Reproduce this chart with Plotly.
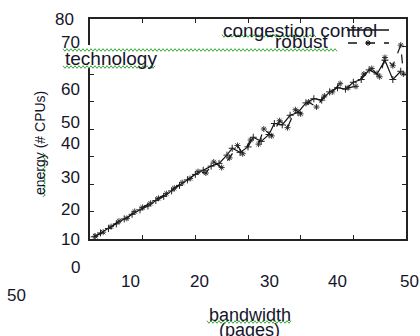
import plotly.graph_objects as go

# ---- data (axis units: x 0..60, y 0..80) ----
cc_x = [0.8, 2, 3.5, 5, 6.5, 8, 9.5, 11, 12.5, 14, 15.5, 17, 18.5, 20, 21.5, 23, 24.5, 26, 27, 28.5,
        30, 31, 32.5, 34, 35, 36.5, 38, 39.5, 41, 42.5, 44, 45.5, 47, 48.5, 50, 51.5, 53, 54.5, 56, 57.5, 59]
cc_y = [0.8, 2.2, 3.8, 5.5, 7.3, 9, 10.6, 12, 14, 15.5, 17.5, 19.5, 21.5, 23.5, 25, 26.5, 27.5, 30.5, 33, 31.5,
        33.5, 37, 35.5, 38, 42, 41.5, 45, 46, 49.5, 51, 50.5, 53.5, 55, 54.5, 57, 58, 61.5, 60, 65, 58, 61]
rb_x = [1, 2.5, 4, 5.5, 7, 8.5, 10, 11.5, 13, 14.5, 16, 17.5, 19, 20.5, 22, 23.5, 25, 26.5, 28, 29,
        30.5, 32, 33, 34.5, 36, 37.5, 39, 40, 41.5, 43, 44.5, 46, 47.5, 49, 50.5, 52, 53.5, 55, 56, 57.5, 59, 59.5]
rb_y = [1, 2.5, 4.5, 6.5, 7.5, 10, 11.5, 13, 14.8, 16.5, 18.5, 20.5, 22, 24.5, 24, 28, 26, 29.5, 34, 31,
        36, 34.5, 40, 37.5, 43, 40.5, 47, 45.5, 49.8, 48, 52, 53.5, 56.5, 55, 55.5, 60, 62, 59, 66, 63, 70.5, 60]

series_names = ["congestion control", "robust"]

# tick labels (as they appear, misplaced, in the reference), positions in axis units
ytick_text = ["80", "70", "60", "50", "40", "30", "20", "10", "0"]
ytick_pos = [80, 71.3, 54.2, 42.2, 34.9, 22.2, 10.9, 0, -10.2]
xtick_text = ["10", "20", "30", "40", "50", "50"]
xtick_pos = [7.6, 20.7, 34.0, 46.9, 60.6, -14.0]
xtick_ypos = [-15.6, -15.6, -15.6, -15.6, -15.6, -20.4]

XR = [0, 60]
YR = [0, 80]

W, H = 420, 336
L, R, T, B = 90, 14, 19, 97
PW, PH = W - L - R, H - T - B


def px(x):
    return (x - L) / PW


def py(y):
    return (H - B - y) / PH


def ux(v):  # axis units -> paper
    return (v - XR[0]) / (XR[1] - XR[0])


def uy(v):
    return (v - YR[0]) / (YR[1] - YR[0])


FONT = "Liberation Sans, Arial, sans-serif"
TXT = "#15152a"

fig = go.Figure()
fig.add_trace(go.Scatter(
    x=cc_x, y=cc_y, mode="lines+markers", name=series_names[0],
    line=dict(color="#111", width=1.2),
    marker=dict(symbol="cross-thin", size=5, line=dict(width=1, color="#222"), color="#222"),
    showlegend=False))
fig.add_trace(go.Scatter(
    x=rb_x, y=rb_y, mode="lines+markers", name=series_names[1],
    line=dict(color="#111", width=1.2, dash="dash"),
    marker=dict(symbol="asterisk", size=5, line=dict(width=0.9, color="#222"), color="#222"),
    showlegend=False))

ann = []
for t, v in zip(ytick_text, ytick_pos):
    xr = 82 if t != "80" else 76
    ann.append(dict(x=px(xr), xref="paper", y=uy(v), yref="paper", text=t, showarrow=False,
                    xanchor="right", yanchor="middle", font=dict(family=FONT, size=17, color=TXT)))
for t, v, yv in zip(xtick_text, xtick_pos, xtick_ypos):
    ann.append(dict(x=ux(v), xref="paper", y=uy(yv), yref="paper", text=t, showarrow=False,
                    xanchor="center", yanchor="middle", font=dict(family=FONT, size=17, color=TXT)))

# titles
ann.append(dict(x=px(63), xref="paper", y=py(59), yref="paper", text="technology", showarrow=False,
                xanchor="left", yanchor="middle",
                font=dict(family=FONT, size=19, color=TXT)))
ann.append(dict(x=px(40), xref="paper", y=py(143), yref="paper", text="energy (# CPUs)", showarrow=False,
                textangle=-90, xanchor="center", yanchor="middle",
                font=dict(family=FONT, size=14, color=TXT)))
ann.append(dict(x=px(250), xref="paper", y=py(315), yref="paper", text="bandwidth", showarrow=False,
                xanchor="center", yanchor="middle", font=dict(family=FONT, size=18, color=TXT)))
ann.append(dict(x=px(249), xref="paper", y=py(330), yref="paper", text="(pages)", showarrow=False,
                xanchor="center", yanchor="middle", font=dict(family=FONT, size=18, color=TXT)))
# legend texts
ann.append(dict(x=px(300), xref="paper", y=py(30), yref="paper", text=series_names[0], showarrow=False,
                xanchor="center", yanchor="middle", font=dict(family=FONT, size=19, color=TXT)))
ann.append(dict(x=px(302), xref="paper", y=py(42), yref="paper", text=series_names[1], showarrow=False,
                xanchor="center", yanchor="middle", font=dict(family=FONT, size=19, color=TXT)))

shapes = []
# white patch hiding the left axis behind "technology"
shapes.append(dict(type="rect", xref="paper", yref="paper", x0=px(86), x1=px(94), y0=py(68), y1=py(45),
                   fillcolor="white", line=dict(width=0), layer="above"))
# legend samples
shapes.append(dict(type="line", xref="paper", yref="paper", x0=px(347), x1=px(389), y0=py(30), y1=py(30),
                   line=dict(color="#111", width=1.3)))
shapes.append(dict(type="line", xref="paper", yref="paper", x0=px(348), x1=px(389), y0=py(43), y1=py(43),
                   line=dict(color="#111", width=1.3, dash="dash")))
for dx0, dy0, dx1, dy1 in [(-3, 0, 3, 0), (0, -3, 0, 3), (-2, -2, 2, 2), (-2, 2, 2, -2)]:
    shapes.append(dict(type="line", xref="paper", yref="paper", x0=px(368 + dx0), x1=px(368 + dx1),
                       y0=py(43 + dy0), y1=py(43 + dy1), line=dict(color="#111", width=1)))


# green spell-check squiggles (decoration)
def squiggle_h(x0, x1, y, amp=1.3, step=2.0):
    pts, k, x = [], 0, x0
    while x <= x1:
        pts.append((px(x), py(y + (amp if k % 2 else -amp))))
        x += step
        k += 1
    return "M " + " L ".join(f"{a:.5f},{b:.5f}" for a, b in pts)


def squiggle_v(x, y0, y1, amp=1.3, step=2.0):
    pts, k, y = [], 0, y0
    while y <= y1:
        pts.append((px(x + (amp if k % 2 else -amp)), py(y)))
        y += step
        k += 1
    return "M " + " L ".join(f"{a:.5f},{b:.5f}" for a, b in pts)


GREEN = "#3aa83a"
for (a, b, c) in [(63, 338, 50), (63, 156, 67), (222, 317, 36), (207, 292, 322)]:
    shapes.append(dict(type="path", xref="paper", yref="paper", path=squiggle_h(a, b, c),
                       line=dict(color=GREEN, width=1), layer="above"))
shapes.append(dict(type="path", xref="paper", yref="paper", path=squiggle_v(44, 153, 197),
                   line=dict(color=GREEN, width=1), layer="above"))

axis_common = dict(showgrid=False, zeroline=False, showline=True, linecolor="#222", linewidth=1.5,
                   mirror="ticks", ticks="inside", ticklen=4, tickcolor="#222", tickwidth=1,
                   showticklabels=False)
fig.update_layout(
    width=W, height=H, margin=dict(l=L, r=R, t=T, b=B),
    paper_bgcolor="white", plot_bgcolor="white",
    xaxis=dict(range=XR, dtick=10, tick0=0, **axis_common),
    yaxis=dict(range=YR, dtick=10, tick0=0, **axis_common),
    annotations=ann, shapes=shapes, showlegend=False,
)
fig.write_html("out.html", config={"displayModeBar": False},
               post_script="document.body.style.margin='0';document.body.style.overflow='hidden';")
